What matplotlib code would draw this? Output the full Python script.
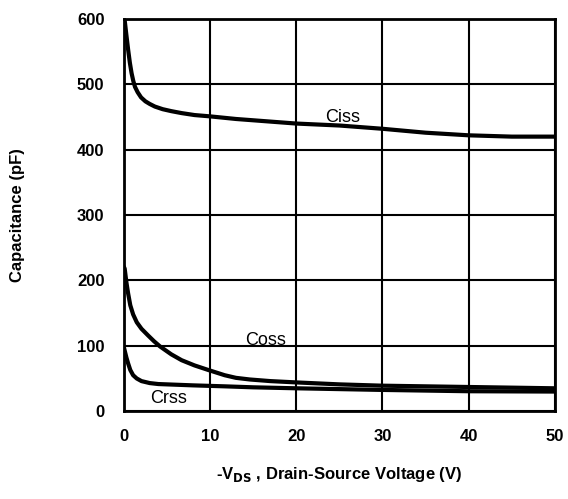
import matplotlib
matplotlib.use("Agg")
import matplotlib.pyplot as plt

plt.rcParams['font.family'] = ['Liberation Sans', 'DejaVu Sans']

# values
vds_ciss = [0, 0.1, 0.3, 0.5, 0.7, 0.9, 1.1, 1.3, 1.6, 2.0, 2.5, 3.0, 3.6, 4.5, 5.5,
            6.7, 8.2, 10, 13, 16, 20, 25, 30, 35, 40, 45, 50]
ciss = [600, 598, 575, 553, 533, 517, 505, 496, 488, 480, 474, 470, 466, 462, 459,
        456, 453, 451, 447, 444, 440, 437, 432, 426, 422, 420, 420]

vds_coss = [0, 0.1, 0.3, 0.5, 0.75, 1.08, 1.5, 2.05, 2.8, 3.5, 4.2, 5.5, 6.7, 8.2,
            9.8, 11.7, 13, 14.6, 17, 20, 25, 30, 40, 50]
coss = [221, 218, 197, 180, 162, 148, 136, 126, 116, 107, 99, 87, 78, 70,
        63, 55, 51, 48.5, 46, 44, 41, 39, 37, 35]

vds_crss = [0, 0.15, 0.3, 0.5, 0.75, 1.08, 1.5, 2.05, 3.0, 4.0, 6, 8, 11.7, 15,
            20, 30, 40, 50]
crss = [98, 90, 82, 73, 63, 55, 50, 46, 43, 41.5, 40.5, 39.5, 38, 36.5,
        35, 32.5, 30.5, 30]

xticks = [0, 10, 20, 30, 40, 50]
yticks = [0, 100, 200, 300, 400, 500, 600]

fig = plt.figure(figsize=(5.68, 4.99), dpi=100)
ax = fig.add_axes([0.218, 0.176, 0.759, 0.786])

for xs, ys in [(vds_ciss, ciss), (vds_coss, coss), (vds_crss, crss)]:
    ax.plot(xs, ys, color='black', lw=3, solid_capstyle='round',
            solid_joinstyle='round', zorder=3)

ax.text(25.4, 450, 'Ciss', fontsize=13, ha='center', va='center')
ax.text(16.4, 108, 'Coss', fontsize=13, ha='center', va='center')
ax.text(5.2, 19, 'Crss', fontsize=13, ha='center', va='center')

ax.set_xlim(0, 50)
ax.set_ylim(0, 600)
ax.set_xticks(xticks)
ax.set_yticks(yticks)
ax.grid(True, color='black', lw=1.5)
ax.tick_params(length=0, labelsize=12)
ax.tick_params(axis='y', pad=14)
ax.tick_params(axis='x', pad=13)
for lab in ax.get_xticklabels() + ax.get_yticklabels():
    lab.set_fontweight('bold')
for s in ax.spines.values():
    s.set_linewidth(2)
    s.set_zorder(4)

fig.text(18 / 568, 1 - 215 / 499, 'Capacitance (pF)', rotation=90, fontsize=12,
         fontweight='bold', ha='center', va='center')
fig.text(339.5 / 568, 1 - 475 / 499, r'-V$_{\mathbf{DS}}$ , Drain-Source Voltage (V)',
         fontsize=12, fontweight='bold', ha='center', va='center')

fig.savefig('out.png', dpi=100)
